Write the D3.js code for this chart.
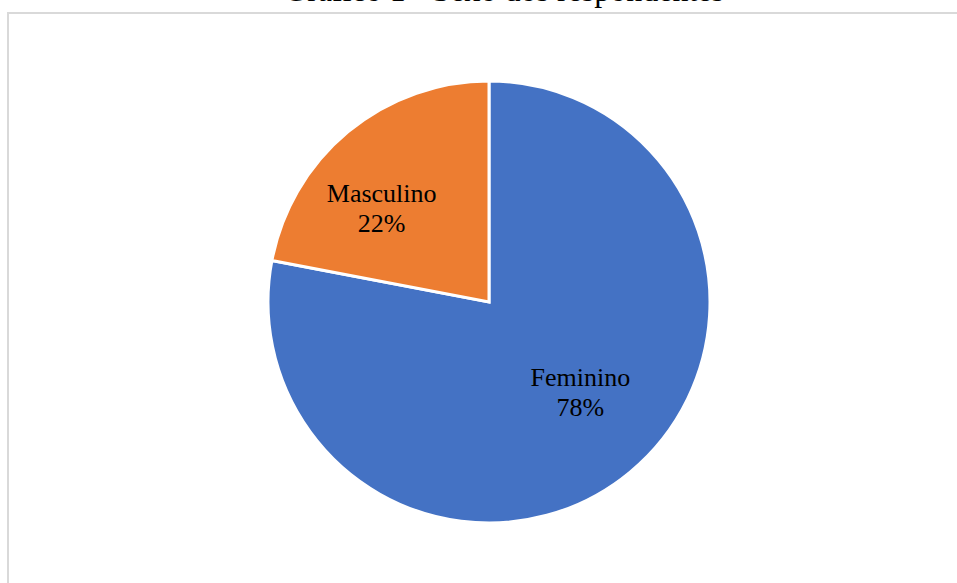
<!DOCTYPE html>
<html>
<head>
<meta charset="utf-8">
<script src="https://cdn.jsdelivr.net/npm/d3@7"></script>
<style>
  html, body { margin: 0; padding: 0; background: #fff; }
  svg { display: block; }
</style>
</head>
<body>
<svg id="chart" width="957" height="583"></svg>
<script>
// chart data
var categories = [ 'Feminino', 'Masculino' ];
var values = [ 78, 22 ];
var colors = [ '#4472C4', '#ED7D31' ];
var title = 'Gráfico 1 - Sexo dos respondentes';

var width = 957, height = 583,
	cx = 489, cy = 302, radius = 221;

// nudges so labels sit where the original put them
var labelShift = [ [ 4, -18 ], [ -20, 9 ] ];

var svg = d3.select( '#chart' );

// frame of the chart area (cut at right and bottom)
svg.append( 'rect' )
	.attr( 'x', 8 )
	.attr( 'y', 13 )
	.attr( 'width', width + 20 )
	.attr( 'height', height + 20 )
	.attr( 'fill', 'none' )
	.attr( 'stroke', '#d9d9d9' )
	.attr( 'stroke-width', 2 );

// title, mostly above the visible area as in the original crop
svg.append( 'text' )
	.attr( 'x', 504 )
	.attr( 'y', 1 )
	.attr( 'text-anchor', 'middle' )
	.attr( 'font-family', '"Liberation Serif", "Times New Roman", serif' )
	.attr( 'font-size', 32 )
	.attr( 'fill', '#000' )
	.text( title );

var slices = categories.map( function( c, i ) {
	return { name: c, value: values[ i ], color: colors[ i ], index: i };
} );

var pie = d3.pie()
	.value( function( d ) { return d.value; } )
	.sort( null );

var arc = d3.arc()
	.innerRadius( 0 )
	.outerRadius( radius );

var labelArc = d3.arc()
	.innerRadius( 0 )
	.outerRadius( 2 * 137 );

var g = svg.append( 'g' )
	.attr( 'transform', 'translate(' + cx + ',' + cy + ')' );

var arcs = pie( slices );

g.selectAll( 'path.slice' )
	.data( arcs )
	.enter()
	.append( 'path' )
		.attr( 'class', 'slice' )
		.attr( 'd', arc )
		.attr( 'fill', function( d ) { return d.data.color; } )
		.attr( 'stroke', '#fff' )
		.attr( 'stroke-width', 3 )
		.attr( 'stroke-linejoin', 'miter' );

var labels = g.selectAll( 'text.slice-label' )
	.data( arcs )
	.enter()
	.append( 'text' )
		.attr( 'class', 'slice-label' )
		.attr( 'text-anchor', 'middle' )
		.attr( 'font-family', '"Liberation Serif", "Times New Roman", serif' )
		.attr( 'font-size', 26 )
		.attr( 'fill', '#000' )
		.attr( 'transform', function( d ) {
			var c = labelArc.centroid( d ),
				s = labelShift[ d.data.index ];
			return 'translate(' + ( c[ 0 ] + s[ 0 ] ) + ',' + ( c[ 1 ] + s[ 1 ] ) + ')';
		} );

labels.append( 'tspan' )
	.attr( 'x', 0 )
	.attr( 'dy', '-0.15em' )
	.text( function( d ) { return d.data.name; } );

labels.append( 'tspan' )
	.attr( 'x', 0 )
	.attr( 'dy', '1.17em' )
	.text( function( d ) { return d.data.value + '%'; } );
</script>
</body>
</html>
